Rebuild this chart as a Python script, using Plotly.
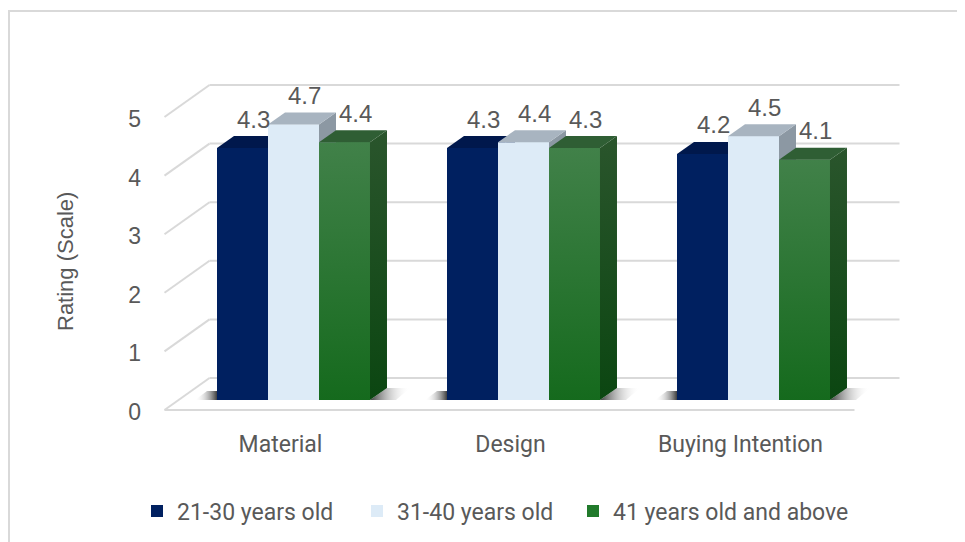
import plotly.graph_objects as go

# ---------------- data ----------------
categories = ["Material", "Design", "Buying Intention"]
series_names = ["21-30 years old", "31-40 years old", "41 years old and above"]
age_21_30 = [4.3, 4.3, 4.2]
age_31_40 = [4.7, 4.4, 4.5]
age_41_up = [4.4, 4.3, 4.1]
y_ticks = [0, 1, 2, 3, 4, 5]
axis_title = "Rating (Scale)"

series_values = [age_21_30, age_31_40, age_41_up]

# ---------------- styling ----------------
front_cols = ["#002060", "#DDEBF7", None]
top_cols = ["#00184C", "#A8B4C0", "#2F5E34"]
side_cols = ["#001745", "#8C98A3", None]
green_front_scale = [[0, "#156A1D"], [1, "#418149"]]
green_side_scale = [[0, "#0B4611"], [1, "#2A552C"]]
legend_cols = ["#002060", "#DDEBF7", "#217A2B"]
TXT = "#595959"
GRID = "#D9D9D9"
NUM_FONT = "Liberation Sans"
LBL_FONT = "Roboto"

W, H = 965, 542
OFF = 8                      # page (body) offset of the plot div
ML, MR, MT = 150 - OFF, 5, 30 - OFF
PLOT_BOTTOM = 428 - OFF
PX_X = 230.0      # pixels per category unit
PX_Y = 58.6       # pixels per rating unit
X0_PX = 293.5 - OFF    # pixel of first category centre
Y0_PX = 400.0 - OFF    # pixel of rating 0 (bar plane)
PLOT_W = W - ML - MR
PLOT_H = PLOT_BOTTOM - MT

x_range = [(ML - X0_PX) / PX_X, (W - MR - X0_PX) / PX_X]
y_range = [-(PLOT_BOTTOM - Y0_PX) / PX_Y, (Y0_PX - MT) / PX_Y]


def ux(p):
    return p / PX_X


def uy(p):
    return p / PX_Y


def paper_x(px):          # px given in screenshot pixels
    return (px - OFF - ML) / PLOT_W


def paper_y(py):
    return (PLOT_BOTTOM - (py - OFF)) / PLOT_H


BAR_W = 0.2217
BAR_DX, BAR_DY = ux(17), uy(12)
FRONT_DX, FRONT_DY = ux(-14), uy(-10)
BACK_DX, BACK_DY = ux(31), uy(22)
X_LEFT, X_RIGHT = -0.5, len(categories) - 0.5

fig = go.Figure()

# legend carriers (front faces, covered by the 3D faces drawn above)
for j, (name, vals) in enumerate(zip(series_names, series_values)):
    fig.add_trace(go.Bar(
        x=[i + (j - 1) * BAR_W for i in range(len(categories))],
        y=vals, width=BAR_W, name=name,
        marker=dict(color=legend_cols[j], line=dict(width=0)),
        hoverinfo="skip",
        legend="legend" if j < 2 else "legend2",
    ))


def poly(xs, ys, color=None, grad=None, gtype="vertical"):
    kw = dict(x=xs + [xs[0]], y=ys + [ys[0]], mode="lines", fill="toself",
              line=dict(width=0, color=color or "rgba(0,0,0,0)"),
              hoverinfo="skip", showlegend=False)
    if grad is not None:
        kw["fillgradient"] = dict(type=gtype, colorscale=grad)
    else:
        kw["fillcolor"] = color
    fig.add_trace(go.Scatter(**kw))


# floor shadows
for i in range(len(categories)):
    xl = i - 1.5 * BAR_W
    xrr = i + 1.5 * BAR_W
    poly([xl - ux(22), xl, xl, xl - ux(10)], [0, 0, uy(9), uy(9)],
         grad=[[0, "rgba(255,255,255,0)"], [1, "rgba(40,40,40,0.9)"]], gtype="horizontal")
    poly([xrr, xrr + ux(26), xrr + ux(40), xrr + BAR_DX],
         [0, 0, BAR_DY, BAR_DY],
         grad=[[0, "rgba(40,40,40,0.9)"], [1, "rgba(255,255,255,0)"]], gtype="horizontal")

# 3D bars
for i in range(len(categories)):
    for j, vals in enumerate(series_values):
        v = vals[i]
        xl = i + (j - 1) * BAR_W - BAR_W / 2
        xr = xl + BAR_W
        fx, fy = [xl, xr, xr, xl], [0, 0, v, v]
        sx = [xr, xr + BAR_DX, xr + BAR_DX, xr]
        sy = [0, BAR_DY, v + BAR_DY, v]
        tx = [xl, xr, xr + BAR_DX, xl + BAR_DX]
        ty = [v, v, v + BAR_DY, v + BAR_DY]
        if front_cols[j] is None:
            poly(fx, fy, grad=green_front_scale)
            poly(sx, sy, grad=green_side_scale)
        else:
            poly(fx, fy, color=front_cols[j])
            poly(sx, sy, color=side_cols[j])
        poly(tx, ty, color=top_cols[j])

# walls / gridlines
shapes = []
for t in y_ticks:
    shapes.append(dict(type="line", xref="x", yref="y", layer="below",
                       x0=X_LEFT + BACK_DX, x1=X_RIGHT + BACK_DX,
                       y0=t + BACK_DY, y1=t + BACK_DY,
                       line=dict(color=GRID, width=2)))
    shapes.append(dict(type="line", xref="x", yref="y", layer="below",
                       x0=X_LEFT + FRONT_DX, x1=X_LEFT + BACK_DX,
                       y0=t + FRONT_DY, y1=t + BACK_DY,
                       line=dict(color=GRID, width=2)))
shapes.append(dict(type="line", xref="x", yref="y", layer="below",
                   x0=X_LEFT + FRONT_DX, x1=X_RIGHT + FRONT_DX,
                   y0=FRONT_DY, y1=FRONT_DY, line=dict(color=GRID, width=2)))
# chart frame
shapes.append(dict(type="rect", xref="paper", yref="paper",
                   x0=paper_x(9), x1=paper_x(W + 30), y0=paper_y(11), y1=paper_y(H + 30),
                   line=dict(color=GRID, width=2)))

annotations = []
for i in range(len(categories)):
    for j, vals in enumerate(series_values):
        annotations.append(dict(
            x=i + (j - 1) * BAR_W, y=vals[i], xref="x", yref="y",
            text=f"{vals[i]:.1f}", showarrow=False, xshift=11, yshift=29,
            font=dict(family=NUM_FONT, size=24, color=TXT)))
annotations.append(dict(
    x=paper_x(65), y=(400 - 262) / PX_Y, xref="paper", yref="y",
    xanchor="center", yanchor="middle",
    text=axis_title, textangle=-90, showarrow=False,
    font=dict(family=NUM_FONT, size=22, color=TXT)))

legend_font = dict(family=LBL_FONT, size=23, color=TXT)
fig.update_layout(
    width=W, height=H,
    margin=dict(l=ML, r=MR, t=MT, b=H - PLOT_BOTTOM, autoexpand=False),
    paper_bgcolor="white", plot_bgcolor="white",
    barmode="overlay",
    showlegend=True,
    legend=dict(orientation="h", x=paper_x(137), xanchor="left",
                y=paper_y(511), yanchor="middle", font=legend_font,
                entrywidth=175, traceorder="normal", bgcolor="rgba(0,0,0,0)"),
    legend2=dict(orientation="h", x=paper_x(573), xanchor="left",
                 y=paper_y(511), yanchor="middle", font=legend_font,
                 bgcolor="rgba(0,0,0,0)"),
    xaxis=dict(range=x_range, tickvals=list(range(len(categories))), ticktext=categories,
               showgrid=False, zeroline=False, showline=False, ticks="",
               ticklabelshift=-13, ticklabelstandoff=0,
               tickfont=dict(family=LBL_FONT, size=23, color=TXT), fixedrange=True),
    yaxis=dict(range=y_range, tickvals=y_ticks, showgrid=False, zeroline=False,
               showline=False, ticks="", ticklabelshift=12, ticklabelstandoff=8,
               tickfont=dict(family=NUM_FONT, size=23, color=TXT), fixedrange=True),
    shapes=shapes, annotations=annotations,
)

fig.write_html("out.html")
